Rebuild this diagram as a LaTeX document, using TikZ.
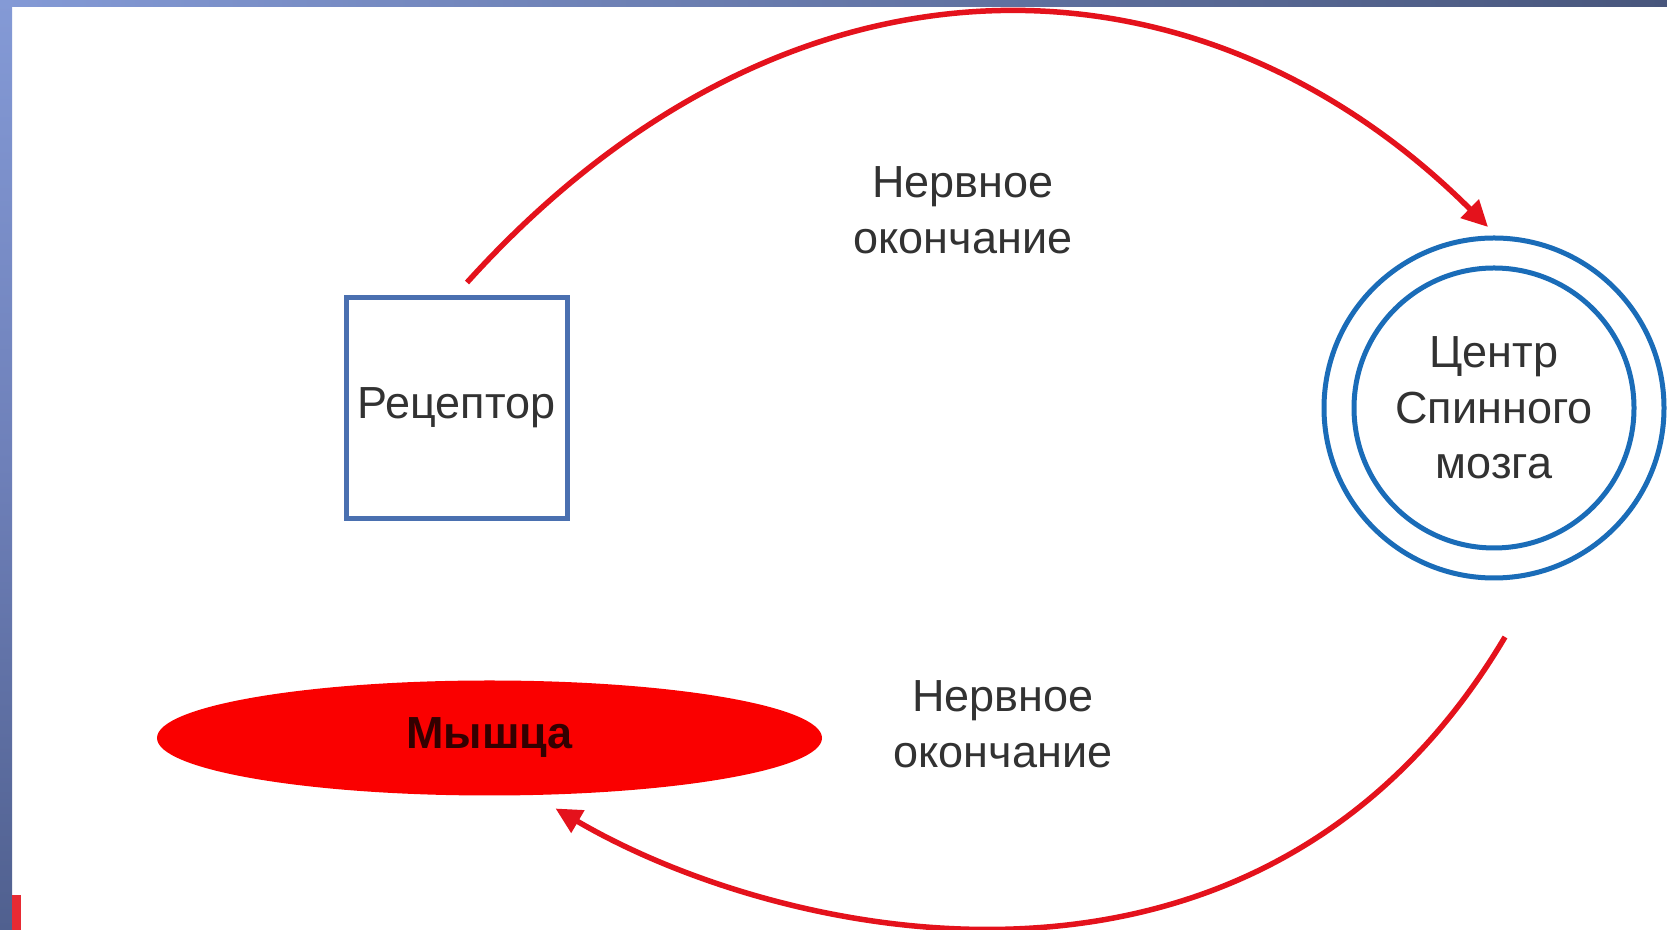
\documentclass[tikz,border=0pt]{standalone}
\usepackage{fontspec}
\setmainfont{Liberation Sans}
\usetikzlibrary{shapes.geometric,arrows.meta}
\definecolor{arrred}{RGB}{228,18,28}
\definecolor{musred}{RGB}{250,0,0}
\definecolor{recblue}{RGB}{74,112,176}
\definecolor{cnsblue}{RGB}{26,108,184}
\definecolor{txtgray}{RGB}{50,50,50}
\definecolor{frlight}{RGB}{132,154,214}
\definecolor{frmid}{RGB}{110,128,185}
\definecolor{frdark}{RGB}{72,86,124}
\definecolor{frbot}{RGB}{80,96,143}
\tikzset{
  lbl/.style={text=txtgray, align=center, font=\fontsize{12.8pt}{15.8pt}\selectfont, inner sep=0pt},
  recbox/.style={draw=recblue, line width=0.5mm, minimum width=22.1mm, minimum height=22.1mm, inner sep=0pt, outer sep=0pt, lbl},
  musbox/.style={ellipse, fill=musred, minimum width=66.5mm, minimum height=11.5mm, inner sep=0pt, outer sep=0pt, text=black!80!red, font=\fontsize{12.8pt}{15pt}\selectfont\bfseries},
  cnsbox/.style={circle, draw=cnsblue, line width=0.5mm, minimum size=34mm, inner sep=0pt, outer sep=0pt, lbl},
  nerve/.style={draw=arrred, line width=0.55mm, -{Triangle[length=2.6mm, width=2.5mm]}}
}
\begin{document}
\begin{tikzpicture}[x=0.1mm, y=-0.1mm]
\useasboundingbox (0,0) rectangle (1667,930);
\fill[white] (0,0) rectangle (1667,930);
% frame bands
\shade[left color=frlight, right color=frdark] (0,0) rectangle (1667,7);
\shade[top color=frlight, bottom color=frbot, middle color=frmid] (0,0) rectangle (12,930);
\fill[arrred!90] (12,895) rectangle (21,930);
% nodes
\node[recbox] (rec) at (456.5,408) {Рецептор};
\node[musbox] (mus) at (489.5,738) {Мышца};
\node[cnsbox] (cns) at (1494,408) {Центр\\Спинного\\мозга};
\draw[cnsblue, line width=0.5mm] (cns.center) circle[radius=14mm];
% labels
\node[lbl] (lab1) at (963,210) {Нервное\\окончание};
\node[lbl] (lab2) at (1003,724) {Нервное\\окончание};
% connectors
\draw[nerve] ([xshift=1.05mm, yshift=1.5mm]rec.north) .. controls (790,-75) and (1200,-60) .. ([xshift=-0.6mm, yshift=1.1mm]cns.north);
\draw[nerve] ([xshift=1.1mm, yshift=-5.9mm]cns.south) .. controls (1260,1050) and (780,940) .. ([xshift=6.6mm, yshift=-1.3mm]mus.south);
\end{tikzpicture}
\end{document}
